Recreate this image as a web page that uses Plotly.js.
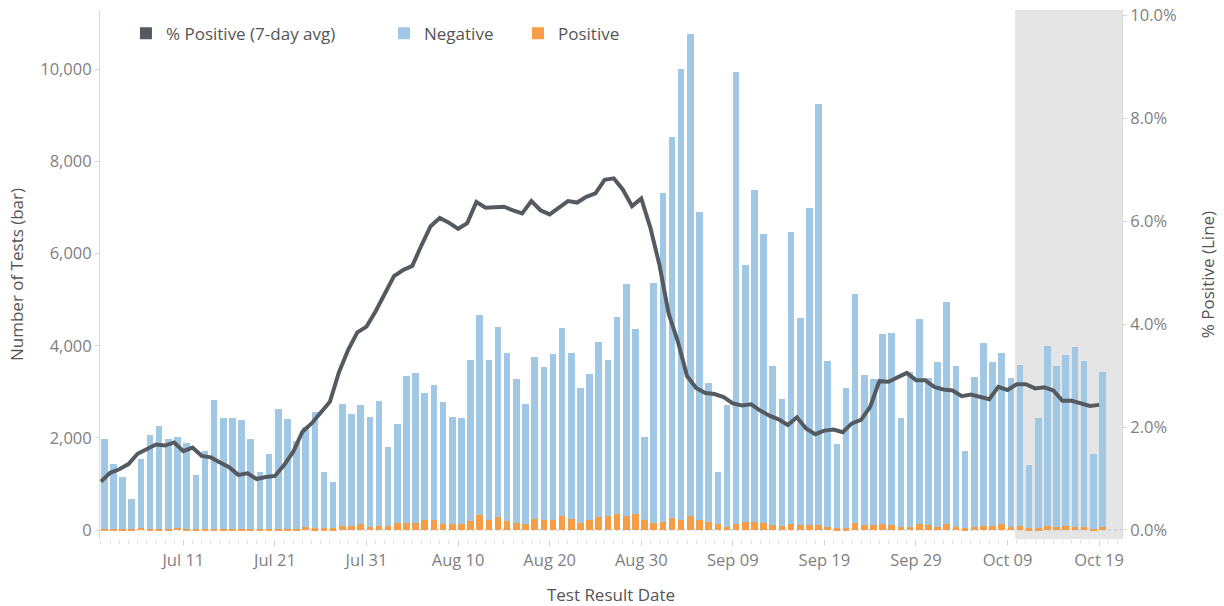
<!DOCTYPE html>
<html>
<head>
<meta charset="utf-8">
<script src="https://cdn.plot.ly/plotly-3.0.1.min.js"></script>
<style>
  html, body { margin: 0; padding: 0; background: #fff; }
  #chart { width: 1224px; height: 606px; }
</style>
</head>
<body>
<div id="chart"></div>
<script>
// ---------- DATA ----------
const dates = [
  '2020-07-02','2020-07-03','2020-07-04','2020-07-05','2020-07-06','2020-07-07','2020-07-08','2020-07-09','2020-07-10','2020-07-11',
  '2020-07-12','2020-07-13','2020-07-14','2020-07-15','2020-07-16','2020-07-17','2020-07-18','2020-07-19','2020-07-20','2020-07-21',
  '2020-07-22','2020-07-23','2020-07-24','2020-07-25','2020-07-26','2020-07-27','2020-07-28','2020-07-29','2020-07-30','2020-07-31',
  '2020-08-01','2020-08-02','2020-08-03','2020-08-04','2020-08-05','2020-08-06','2020-08-07','2020-08-08','2020-08-09','2020-08-10',
  '2020-08-11','2020-08-12','2020-08-13','2020-08-14','2020-08-15','2020-08-16','2020-08-17','2020-08-18','2020-08-19','2020-08-20',
  '2020-08-21','2020-08-22','2020-08-23','2020-08-24','2020-08-25','2020-08-26','2020-08-27','2020-08-28','2020-08-29','2020-08-30','2020-08-31',
  '2020-09-01','2020-09-02','2020-09-03','2020-09-04','2020-09-05','2020-09-06','2020-09-07','2020-09-08','2020-09-09','2020-09-10',
  '2020-09-11','2020-09-12','2020-09-13','2020-09-14','2020-09-15','2020-09-16','2020-09-17','2020-09-18','2020-09-19','2020-09-20',
  '2020-09-21','2020-09-22','2020-09-23','2020-09-24','2020-09-25','2020-09-26','2020-09-27','2020-09-28','2020-09-29','2020-09-30',
  '2020-10-01','2020-10-02','2020-10-03','2020-10-04','2020-10-05','2020-10-06','2020-10-07','2020-10-08','2020-10-09','2020-10-10',
  '2020-10-11','2020-10-12','2020-10-13','2020-10-14','2020-10-15','2020-10-16','2020-10-17','2020-10-18','2020-10-19'
];

const negative = [
  1960,1425,1125,658,1505,2045,2220,1955,1975,1865,
  1175,1685,2800,2400,2405,2370,1955,1235,1640,2605,
  2400,1910,2180,2520,1215,1015,2645,2415,2585,2385,
  2695,1715,2140,3190,3240,2755,2935,2648,2328,2308,
  3493,4339,3464,4126,3656,3112,2618,3515,3314,3604,
  4088,3605,2932,3164,3806,3395,4280,5040,4020,1800,5210,
  7140,8250,9780,10470,6690,3010,1140,2645,9820,5580,
  7200,6270,3460,2760,6330,4500,6880,9150,3588,1817,
  3047,4962,3270,3180,4120,4170,2368,3348,4460,3200,
  3578,4825,3505,1684,3265,3956,3556,3728,3235,3496,
  1374,2394,3906,3495,3696,3905,3605,1625,3355
];

const positive = [
  20,15,15,12,45,25,30,25,45,25,
  15,25,30,30,25,20,25,15,20,25,
  20,30,60,40,35,35,95,95,125,65,
  95,95,160,160,160,215,215,122,122,122,
  187,331,216,274,194,158,122,245,216,216,
  302,245,158,216,274,305,340,300,340,220,160,
  180,270,220,300,220,180,130,75,130,180,
  180,150,100,90,130,100,100,100,72,43,
  43,158,100,100,130,100,72,72,130,100,
  72,125,65,36,65,94,94,122,65,94,
  36,36,94,65,94,65,65,15,65
];

// % positive, 7-day average (in percent)
const pctPositive = [
  0.94,1.11,1.18,1.28,1.48,1.57,1.66,1.64,1.70,1.53,
  1.60,1.44,1.41,1.31,1.22,1.07,1.10,0.99,1.03,1.05,
  1.26,1.52,1.91,2.07,2.27,2.49,3.07,3.50,3.84,3.95,
  4.25,4.60,4.93,5.05,5.13,5.53,5.90,6.06,5.97,5.85,
  5.96,6.37,6.26,6.27,6.28,6.21,6.15,6.39,6.21,6.13,
  6.25,6.39,6.36,6.47,6.54,6.80,6.83,6.61,6.29,6.44,5.87,
  5.14,4.20,3.66,2.99,2.76,2.66,2.64,2.58,2.46,2.42,
  2.44,2.32,2.22,2.15,2.04,2.19,1.97,1.86,1.93,1.95,
  1.90,2.07,2.14,2.39,2.89,2.88,2.96,3.05,2.91,2.91,
  2.78,2.73,2.71,2.60,2.63,2.58,2.54,2.78,2.72,2.83,
  2.83,2.75,2.77,2.71,2.51,2.51,2.46,2.41,2.43
];

const xTickDates = ['2020-07-11','2020-07-21','2020-07-31','2020-08-10','2020-08-20','2020-08-30',
                    '2020-09-09','2020-09-19','2020-09-29','2020-10-09','2020-10-19'];
const leftTicks = [0, 2000, 4000, 6000, 8000, 10000];
const rightTicks = [0, 2, 4, 6, 8, 10];
const rightTickLabels = ['0.0%', '2.0%', '4.0%', '6.0%', '8.0%', '10.0%'];
const shadedStart = '2020-10-09 20:00';

// ---------- STYLE ----------
const FONT = 'Open Sans, sans-serif';
const C_NEG = '#A0C8E4';
const C_POS = '#F59E47';
const C_LINE = '#555A61';
const DAY = 86400000;
const X_RANGE = ['2020-07-01 21:30', '2020-10-21 12:00'];
const TICK_SIZE = 16.5;
const TITLE_SIZE = 17;

const traces = [
  {
    type: 'bar', x: dates, y: positive, name: 'Positive',
    marker: { color: C_POS }, width: 0.72 * DAY, offset: 0,
    legend: 'legend3', hoverinfo: 'x+y'
  },
  {
    type: 'bar', x: dates, y: negative, name: 'Negative',
    marker: { color: C_NEG }, width: 0.72 * DAY, offset: 0,
    legend: 'legend2', hoverinfo: 'x+y'
  },
  // legend key (square swatch) for the line series; draws no mark
  {
    type: 'bar', x: [null], y: [null], name: '% Positive (7-day avg)',
    marker: { color: C_LINE }, legend: 'legend', hoverinfo: 'skip'
  },
  {
    type: 'scatter', mode: 'lines', x: dates, y: pctPositive, yaxis: 'y2',
    name: '% Positive (7-day avg)', showlegend: false,
    line: { color: C_LINE, width: 4, shape: 'linear' }
  }
];

const legendBase = {
  orientation: 'h', yanchor: 'middle', xanchor: 'left', y: 0.955,
  bgcolor: 'rgba(0,0,0,0)', font: { family: FONT, size: TITLE_SIZE, color: '#555' }
};

const layout = {
  width: 1224, height: 606,
  margin: { l: 100, r: 102, t: 10, b: 67 },
  paper_bgcolor: '#ffffff', plot_bgcolor: 'rgba(0,0,0,0)',
  barmode: 'stack', bargap: 0,
  font: { family: FONT, size: TICK_SIZE, color: '#7f7f7f' },
  showlegend: true,
  legend: Object.assign({}, legendBase, { x: 0.0254 }),
  legend2: Object.assign({}, legendBase, { x: 0.2779 }),
  legend3: Object.assign({}, legendBase, { x: 0.409 }),
  xaxis: {
    type: 'date', range: X_RANGE, automargin: false,
    tickmode: 'array', tickvals: xTickDates, tickformat: '%b %d',
    ticks: 'outside', ticklen: 6, tickcolor: '#d6d6d6',
    minor: { tick0: '2020-07-02', dtick: DAY, ticks: 'outside', ticklen: 4, tickcolor: '#e3e3e3', showgrid: false },
    showgrid: false, zeroline: false, showline: false,
    tickfont: { family: FONT, size: TICK_SIZE, color: '#7f7f7f' },
    title: { text: 'Test Result Date', font: { family: FONT, size: TITLE_SIZE, color: '#555' }, standoff: 26 }
  },
  yaxis: {
    range: [-195, 11287], automargin: false,
    tickmode: 'array', tickvals: leftTicks, tickformat: ',d',
    ticks: 'outside', ticklen: 4, tickcolor: '#d6d6d6',
    showgrid: false, zeroline: false, showline: true, linecolor: '#d9d9d9', linewidth: 1,
    tickfont: { family: FONT, size: TICK_SIZE, color: '#7f7f7f' },
    title: { text: 'Number of Tests (bar)', font: { family: FONT, size: TITLE_SIZE, color: '#555' }, standoff: 12 }
  },
  yaxis2: {
    overlaying: 'y', side: 'right', range: [-0.175, 10.1], automargin: false,
    tickmode: 'array', tickvals: rightTicks, ticktext: rightTickLabels,
    ticks: 'outside', ticklen: 4, tickcolor: '#d6d6d6',
    showgrid: false, zeroline: false, showline: true, linecolor: '#d9d9d9', linewidth: 1,
    tickfont: { family: FONT, size: TICK_SIZE, color: '#7f7f7f' },
    title: { text: '% Positive (Line)', font: { family: FONT, size: TITLE_SIZE, color: '#555' }, standoff: 26 }
  },
  shapes: [
    { type: 'rect', layer: 'below', xref: 'x', yref: 'paper',
      x0: shadedStart, x1: X_RANGE[1], y0: 0, y1: 1,
      fillcolor: '#E5E5E5', line: { width: 0 } },
    { type: 'line', layer: 'below', xref: 'paper', yref: 'y',
      x0: 0, x1: 1, y0: 0, y1: 0,
      line: { color: '#c4c4c4', width: 1, dash: 'dot' } }
  ]
};

Plotly.newPlot('chart', traces, layout, { displayModeBar: false, responsive: false });
</script>
</body>
</html>
